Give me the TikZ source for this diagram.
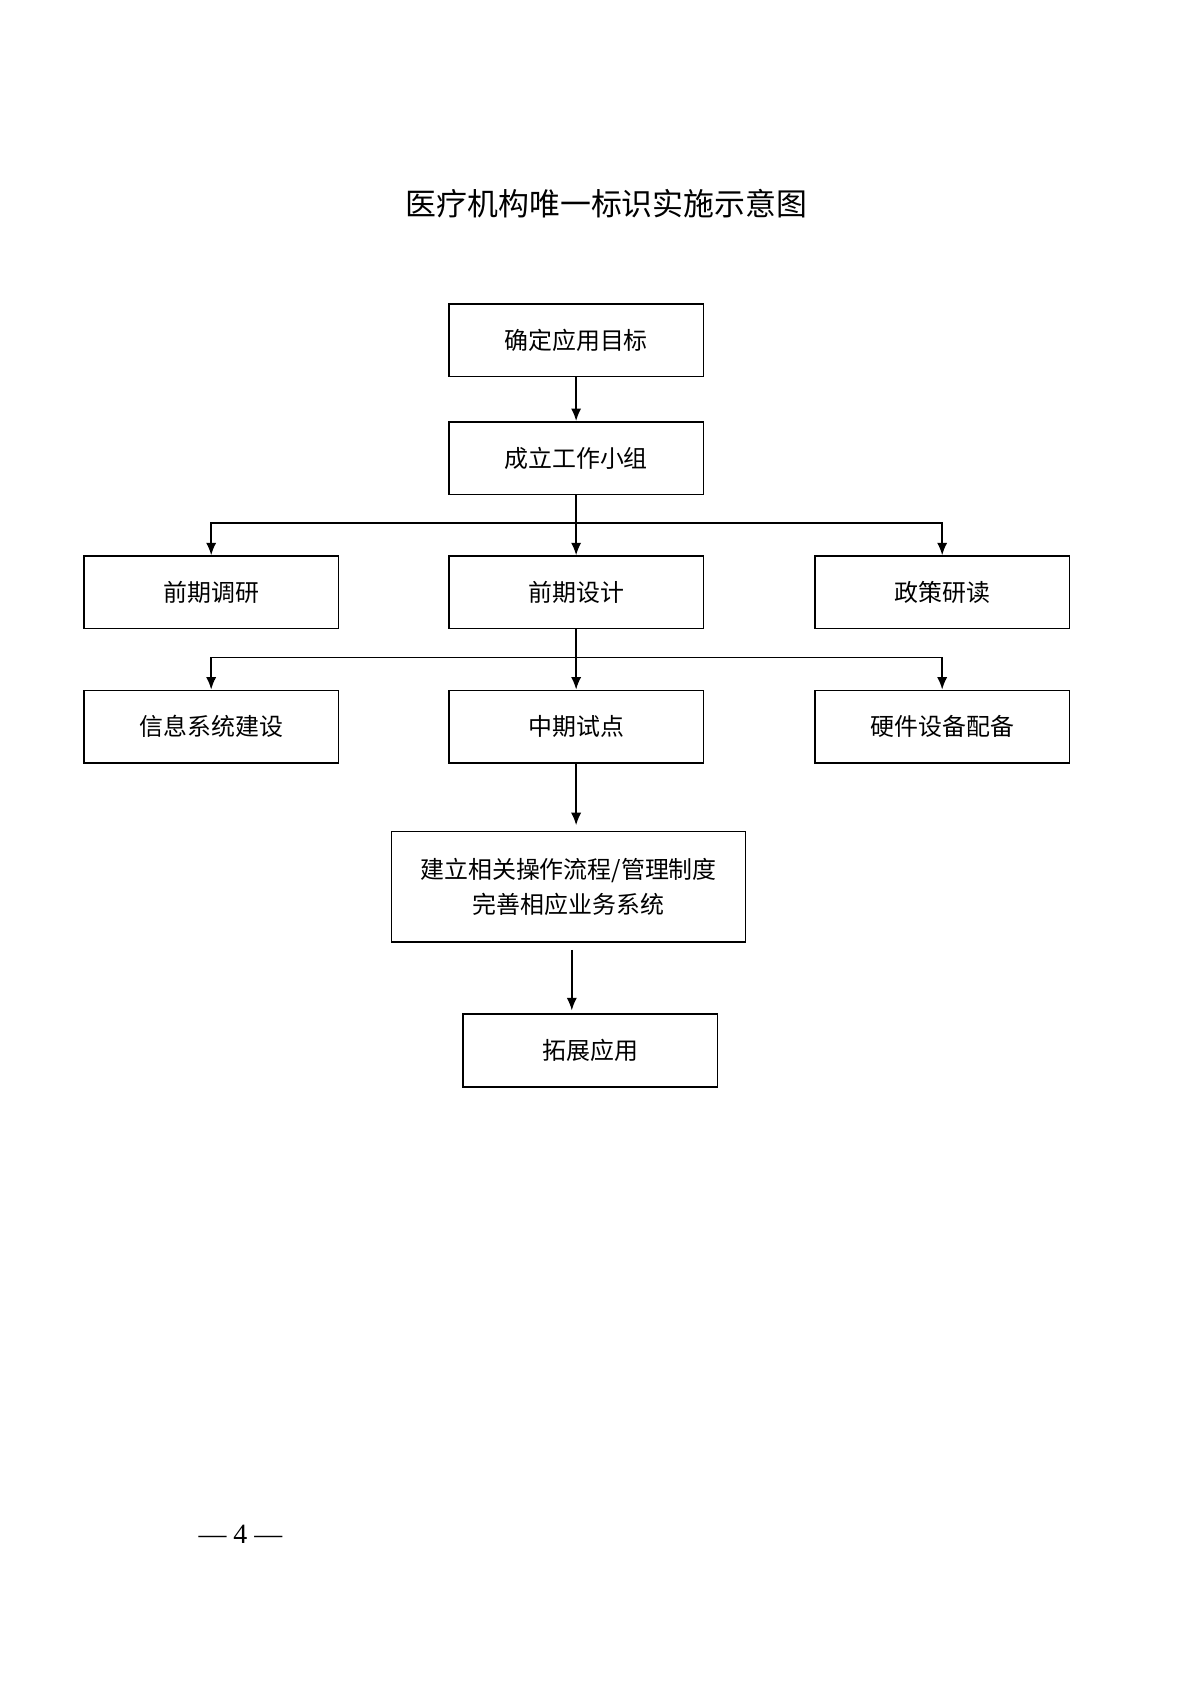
\documentclass[tikz,border=0pt]{standalone}
\usepackage{fontspec}
\setmainfont{Noto Sans CJK SC}
\newfontfamily\numfont{Liberation Serif}
\usetikzlibrary{arrows.meta}
\begin{document}
\begin{tikzpicture}[x=0.01909cm,y=-0.01909cm,
    box/.style={draw, thick, minimum width=4.49cm, minimum height=1.28cm, font=\fontsize{12}{18}\selectfont, align=center},
    arr/.style={draw, thick, -{Latex[length=2.2mm,width=1.8mm]}}]
        \useasboundingbox (0,0) rectangle (1100,1555);
        \node (title) at (560,188) {\fontsize{15.5}{18}\selectfont 医疗机构唯一标识实施示意图};

        \node[box] (1) at (532,314) {确定应用目标};
        \node[box] (2) at (532,423) {成立工作小组};
        \node[box] (3) at (195,547) {前期调研};
        \node[box] (4) at (532,547) {前期设计};
        \node[box] (5) at (870,547) {政策研读};
        \node[box] (6) at (195,671) {信息系统建设};
        \node[box] (7) at (532,671) {中期试点};
        \node[box] (8) at (870,671) {硬件设备配备};
        \node[box, minimum width=6.24cm, minimum height=1.95cm] (9) at (525,819) {建立相关操作流程/管理制度\\完善相应业务系统};
        \node[box] (10) at (545,970) {拓展应用};
        \node (page) at (222,1417) {\numfont\fontsize{14}{16}\selectfont — 4 —};

        \coordinate (b1) at (532,483);
        \coordinate (b2) at (532,607);
        \coordinate (t9) at (532,762);
        \coordinate (s9) at (528,877);
        \coordinate (t10) at (528,933);

        \path[arr] (1) -- (2);
        \path[arr] (2) -- (4);
        \path[arr] (b1) -| (3);
        \path[arr] (b1) -| (5);
        \path[arr] (4) -- (7);
        \path[arr] (b2) -| (6);
        \path[arr] (b2) -| (8);
        \path[arr] (7) -- (t9);
        \path[arr] (s9) -- (t10);
    \end{tikzpicture}
\end{document}
